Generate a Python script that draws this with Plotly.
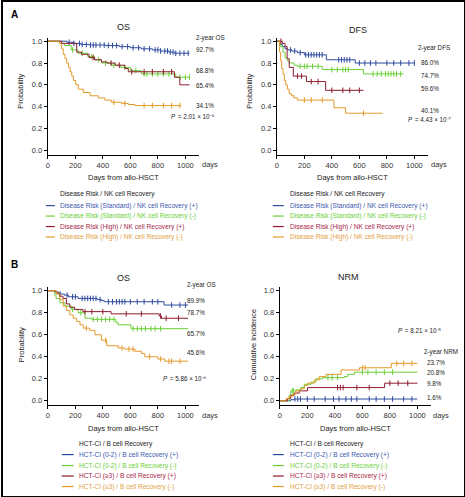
import plotly.graph_objects as go

W, H = 465, 497

# ---------------- DATA ----------------
GROUPS_A = ["Disease Risk (Standard) / NK cell Recovery (+)",
            "Disease Risk (Standard) / NK cell Recovery (-)",
            "Disease Risk (High) / NK cell Recovery (+)",
            "Disease Risk (High) / NK cell Recovery (-)"]
GROUPS_B = ["HCT-CI (0-2) / B cell Recovery (+)",
            "HCT-CI (0-2) / B cell Recovery (-)",
            "HCT-CI (≥3) / B cell Recovery (+)",
            "HCT-CI (≥3) / B cell Recovery (-)"]
X_TICKS = [0, 200, 400, 600, 800, 1000]
Y_TICKS = [0.0, 0.2, 0.4, 0.6, 0.8, 1.0]

# Panel A - OS
A_OS_T1 = [0, 140, 190, 240, 300, 420, 520, 600, 680, 760, 820, 880, 920]
A_OS_S1 = [1, .99, .98, .97, .965, .96, .95, .94, .93, .92, .91, .90, .89]
A_OS_E1 = 1030
A_OS_C1 = [155, 190, 230, 250, 280, 310, 330, 350, 380, 410, 440, 470, 500, 540, 580, 620,
           660, 700, 740, 780, 800, 820, 850, 870, 890, 910, 930, 960, 990, 1020]
A_OS_T2 = [0, 85, 120, 170, 220, 290, 340, 390, 460, 530, 600, 680, 930]
A_OS_S2 = [1, .98, .96, .92, .89, .86, .83, .80, .78, .76, .73, .70, .67]
A_OS_E2 = 1030
A_OS_C2 = [180, 250, 320, 370, 420, 480, 560, 640, 700, 720, 760, 800, 840, 880, 960, 1000, 1030]
A_OS_T3 = [0, 100, 210, 245, 300, 340, 390, 430, 490, 560, 585, 920, 960]
A_OS_S3 = [1, .98, .90, .88, .85, .83, .81, .80, .78, .75, .72, .67, .60]
A_OS_E3 = 1030
A_OS_C3 = [330, 460, 520, 610, 700, 760, 840, 900]
A_OS_T4 = [0, 85, 100, 112, 125, 137, 150, 162, 174, 186, 203, 222, 258, 307, 367, 415, 464, 536, 585, 633]
A_OS_S4 = [1, .98, .93, .88, .84, .80, .76, .72, .68, .64, .60, .56, .53, .50, .48, .46, .44, .43, .42, .41]
A_OS_E4 = 970
A_OS_C4 = [480, 560, 700, 760, 840, 900, 960]
A_OS_LABELS = ["2-year OS", "92.7%", "68.8%", "65.4%", "34.1%"]
A_OS_P = " = 2.01 × 10⁻⁹"

# Panel A - DFS
A_DFS_T1 = [0, 20, 40, 60, 80, 110, 150, 200, 360, 570]
A_DFS_S1 = [1, .97, .95, .93, .92, .91, .895, .875, .83, .80]
A_DFS_E1 = 1000
A_DFS_C1 = [100, 130, 170, 210, 230, 250, 270, 290, 310, 330, 450, 470, 490, 510, 530, 600,
            640, 680, 720, 800, 850, 900, 960, 1000]
A_DFS_T2 = [0, 25, 45, 60, 75, 90, 125, 150, 330, 630]
A_DFS_S2 = [1, .95, .90, .85, .82, .80, .78, .77, .74, .70]
A_DFS_E2 = 920
A_DFS_C2 = [170, 200, 220, 260, 300, 400, 440, 480, 500, 520, 700, 730, 760, 790, 810, 830, 850, 870, 900]
A_DFS_T3 = [0, 40, 60, 75, 90, 120, 215, 355]
A_DFS_S3 = [1, .98, .95, .84, .76, .68, .63, .55]
A_DFS_E3 = 630
A_DFS_C3 = [30, 150, 180, 250, 300, 400, 480, 530, 600]
A_DFS_T4 = [0, 20, 28, 35, 45, 55, 65, 77, 90, 105, 125, 150, 415, 500]
A_DFS_S4 = [1, .90, .82, .75, .70, .64, .60, .56, .52, .50, .48, .46, .39, .34]
A_DFS_E4 = 770
A_DFS_C4 = [200, 250, 330, 630]
A_DFS_LABELS = ["2-year DFS", "86.0%", "74.7%", "59.6%", "40.1%"]
A_DFS_P = " = 4.43 × 10⁻⁷"

# Panel B - OS
B_OS_T1 = [0, 50, 75, 120, 150, 220, 360, 390, 410, 845]
B_OS_S1 = [1, .99, .97, .96, .945, .93, .92, .91, .90, .87]
B_OS_E1 = 1020
B_OS_C1 = [90, 140, 180, 200, 250, 270, 290, 310, 330, 350, 380, 440, 470, 500, 520, 540, 560,
           600, 650, 700, 760, 800, 900, 960, 1000]
B_OS_T2 = [0, 50, 60, 88, 125, 170, 220, 270, 318, 495, 510, 605]
B_OS_S2 = [1, .96, .93, .89, .86, .83, .80, .75, .74, .71, .69, .655]
B_OS_E2 = 1020
B_OS_C2 = [180, 240, 330, 360, 390, 420, 450, 480, 620, 650, 680, 710, 750, 780, 820]
B_OS_T3 = [0, 60, 85, 110, 135, 160, 195, 255, 460, 810, 826]
B_OS_S3 = [1, .98, .95, .93, .88, .85, .83, .81, .79, .77, .75]
B_OS_E3 = 1020
B_OS_C3 = [270, 320, 400, 570, 680, 820, 860, 950]
B_OS_T4 = [0, 62, 88, 112, 137, 160, 185, 210, 234, 258, 305, 343, 390, 428, 512, 560, 633, 680, 705, 800, 850]
B_OS_S4 = [1, .97, .92, .86, .82, .78, .75, .72, .69, .66, .64, .60, .55, .50, .48, .47, .45, .43, .40, .38, .36]
B_OS_E4 = 1020
B_OS_C4 = [280, 420, 540, 590, 620, 740, 820, 880, 900, 960]
B_OS_LABELS = ["2-year OS", "89.9%", "78.7%", "65.7%", "45.6%"]
B_OS_P = " = 5.86 × 10⁻⁶"

# Panel B - NRM (cumulative incidence)
B_NRM_T1 = [0, 80, 105]
B_NRM_S1 = [0, .01, .016]
B_NRM_E1 = 1000
B_NRM_C1 = [110, 130, 150, 200, 250, 330, 390, 430, 480, 520, 560, 650, 700, 760, 820, 900, 960]
B_NRM_T2 = [0, 68, 80, 117, 153, 178, 226, 263, 311, 470, 494, 543]
B_NRM_S2 = [0, .05, .09, .10, .12, .15, .17, .20, .21, .22, .24, .26]
B_NRM_E2 = 1000
B_NRM_C2 = [90, 100, 350, 380, 420, 600, 640, 700, 760, 820]
B_NRM_T3 = [0, 56, 80, 105, 141, 202, 762]
B_NRM_S3 = [0, .02, .05, .07, .09, .12, .16]
B_NRM_E3 = 1000
B_NRM_C3 = [420, 440, 460, 560, 650, 800, 860, 930]
B_NRM_T4 = [0, 44, 68, 92, 117, 153, 178, 202, 251, 287, 336, 445, 579, 810]
B_NRM_S4 = [0, .02, .04, .06, .09, .11, .14, .16, .19, .22, .24, .28, .30, .34]
B_NRM_E4 = 1000
B_NRM_C4 = [600, 620, 850, 900, 960]
B_NRM_LABELS = ["2-year NRM", "23.7%", "20.8%", "9.8%", "1.6%"]
B_NRM_P = " = 8.21 × 10⁻⁵"

# ---------------- STYLE ----------------
COLORS = ["#2e4a9e", "#6ccf38", "#8e1b30", "#e49a2b"]
TEXT_COLORS = ["#4058b0", "#6ccf38", "#a82848", "#e2a043"]
FONT = "Liberation Sans, Arial, sans-serif"
NARROW = "Liberation Sans Narrow, Arial Narrow, Liberation Sans, sans-serif"


def px(x):
    return x / W


def py(y):
    return 1 - y / H


def step_at(ts, ss, x):
    v = ss[0]
    for t, s in zip(ts, ss):
        if t <= x:
            v = s
    return v


fig = go.Figure()

panels = [
    ("", [(A_OS_T1, A_OS_S1, A_OS_E1, A_OS_C1), (A_OS_T2, A_OS_S2, A_OS_E2, A_OS_C2),
          (A_OS_T3, A_OS_S3, A_OS_E3, A_OS_C3), (A_OS_T4, A_OS_S4, A_OS_E4, A_OS_C4)],
     (46, 198), (37, 154)),
    ("2", [(A_DFS_T1, A_DFS_S1, A_DFS_E1, A_DFS_C1), (A_DFS_T2, A_DFS_S2, A_DFS_E2, A_DFS_C2),
           (A_DFS_T3, A_DFS_S3, A_DFS_E3, A_DFS_C3), (A_DFS_T4, A_DFS_S4, A_DFS_E4, A_DFS_C4)],
     (276, 428), (37, 154)),
    ("3", [(B_OS_T1, B_OS_S1, B_OS_E1, B_OS_C1), (B_OS_T2, B_OS_S2, B_OS_E2, B_OS_C2),
           (B_OS_T3, B_OS_S3, B_OS_E3, B_OS_C3), (B_OS_T4, B_OS_S4, B_OS_E4, B_OS_C4)],
     (46, 198), (287, 405)),
    ("4", [(B_NRM_T1, B_NRM_S1, B_NRM_E1, B_NRM_C1), (B_NRM_T2, B_NRM_S2, B_NRM_E2, B_NRM_C2),
           (B_NRM_T3, B_NRM_S3, B_NRM_E3, B_NRM_C3), (B_NRM_T4, B_NRM_S4, B_NRM_E4, B_NRM_C4)],
     (279, 431), (287, 405)),
]

layout_axes = {}
for suf, curves, (x0, x1), (y0, y1) in panels:
    xa, ya = "x" + suf, "y" + suf
    for i, (ts, ss, end, cens) in enumerate(curves):
        fig.add_trace(go.Scatter(x=list(ts) + [end], y=list(ss) + [ss[-1]], mode="lines",
                                 line=dict(color=COLORS[i], width=1, shape="hv"),
                                 xaxis=xa, yaxis=ya, showlegend=False, hoverinfo="skip"))
        fig.add_trace(go.Scatter(x=cens, y=[step_at(ts, ss, c) for c in cens], mode="markers",
                                 marker=dict(symbol="line-ns", size=4,
                                             line=dict(width=1, color=COLORS[i])),
                                 xaxis=xa, yaxis=ya, showlegend=False, hoverinfo="skip"))
    common = dict(showgrid=False, zeroline=False, showline=True, linecolor="black", linewidth=1,
                  ticks="outside", ticklen=3, tickcolor="black", tickwidth=1,
                  tickfont=dict(size=7.5, color="#333", family=FONT))
    layout_axes["xaxis" + suf] = dict(common, domain=[px(x0), px(x1)], range=[0, 1100],
                                      tickvals=X_TICKS, ticktext=[str(v) for v in X_TICKS],
                                      anchor=ya)
    layout_axes["yaxis" + suf] = dict(common, domain=[py(y1), py(y0)], range=[-0.04, 1.03],
                                      tickvals=Y_TICKS, ticktext=[f"{v:.1f}" for v in Y_TICKS],
                                      anchor=xa)

fig.update_layout(**layout_axes)

ann = []


def text(x, y, t, size=6, color="#222", xanchor="left", family=FONT, angle=0, bold=False,
         italic=False):
    ann.append(dict(x=px(x), y=py(y), xref="paper", yref="paper", text=t, showarrow=False,
                    xanchor=xanchor, yanchor="middle", textangle=angle,
                    font=dict(size=size, color=color, family=family,
                              weight="bold" if bold else "normal",
                              style="italic" if italic else "normal")))


text(7, 14, "A", size=10, color="black", bold=True)
text(7, 264, "B", size=10, color="black", bold=True)

text(122, 26, "OS", size=9, xanchor="center")
text(358, 29, "DFS", size=9, xanchor="center")
text(122, 278, "OS", size=9, xanchor="center")
text(348, 277, "NRM", size=9, xanchor="center")

for (cx, cy, t) in [(19, 90, "Probability"), (249, 90, "Probability"),
                    (19, 344, "Probability"), (252, 344, "Cumulative incidence")]:
    text(cx, cy, t, size=7.5, xanchor="center", family=NARROW, angle=-90)
for (cx, cy) in [(122, 177), (352, 177), (122, 428), (355, 428)]:
    text(cx, cy, "Days from allo-HSCT", size=7.5, xanchor="center", family=NARROW)
for (cx, cy) in [(199, 164), (429, 164), (199, 415), (431, 415)]:
    text(cx, cy, "days", size=7.5, color="#333")

for (x, ys, labels) in [(193, [37, 49, 70, 85, 105], A_OS_LABELS),
                        (416, [47, 62, 75, 88, 110], A_DFS_LABELS),
                        (184, [285, 300, 312, 333, 352], B_OS_LABELS),
                        (422, [352, 362, 372, 383, 397], B_NRM_LABELS)]:
    for j, (yy, lab) in enumerate(zip(ys, labels)):
        text(x if j == 0 else x + (0 if x < 400 else 3), yy, lab, size=6.3)

for (x, y, pv) in [(168, 116, A_OS_P), (406, 119, A_DFS_P), (160, 378, B_OS_P), (396, 330, B_NRM_P)]:
    text(x, y, "P", size=6.3, italic=True)
    text(x + 4.5, y, pv, size=6.3)

shapes = []
for (lx0, lx1, tx, ty, ys, title, groups) in [
        (44, 53, 56, 193, [205, 215.5, 226, 236.5], "Disease Risk / NK cell Recovery", GROUPS_A),
        (272, 283, 287, 193, [205, 215.5, 226, 236.5], "Disease Risk / NK cell Recovery", GROUPS_A),
        (60, 72, 75, 444, [454.5, 465.5, 476, 486.5], "HCT-CI / B cell Recovery", GROUPS_B),
        (272, 283, 287, 444, [454.5, 465.5, 476, 486.5], "HCT-CI / B cell Recovery", GROUPS_B)]:
    text(tx, ty, title, size=6.6, color="#222")
    for i, (yy, g) in enumerate(zip(ys, groups)):
        shapes.append(dict(type="line", xref="paper", yref="paper", x0=px(lx0), x1=px(lx1),
                           y0=py(yy), y1=py(yy), line=dict(color=COLORS[i], width=1.2)))
        text(tx, yy, g, size=6.6, color=TEXT_COLORS[i])

shapes.append(dict(type="rect", xref="paper", yref="paper", x0=0, x1=1, y0=0, y1=1,
                   line=dict(color="black", width=2)))

fig.update_layout(width=W, height=H, margin=dict(l=0, r=0, t=0, b=0),
                  paper_bgcolor="white", plot_bgcolor="white",
                  annotations=ann, shapes=shapes, showlegend=False,
                  font=dict(family=FONT))

fig.write_html("out.html", config={"displayModeBar": False},
               post_script="document.body.style.margin='0';document.body.style.overflow='hidden';")
